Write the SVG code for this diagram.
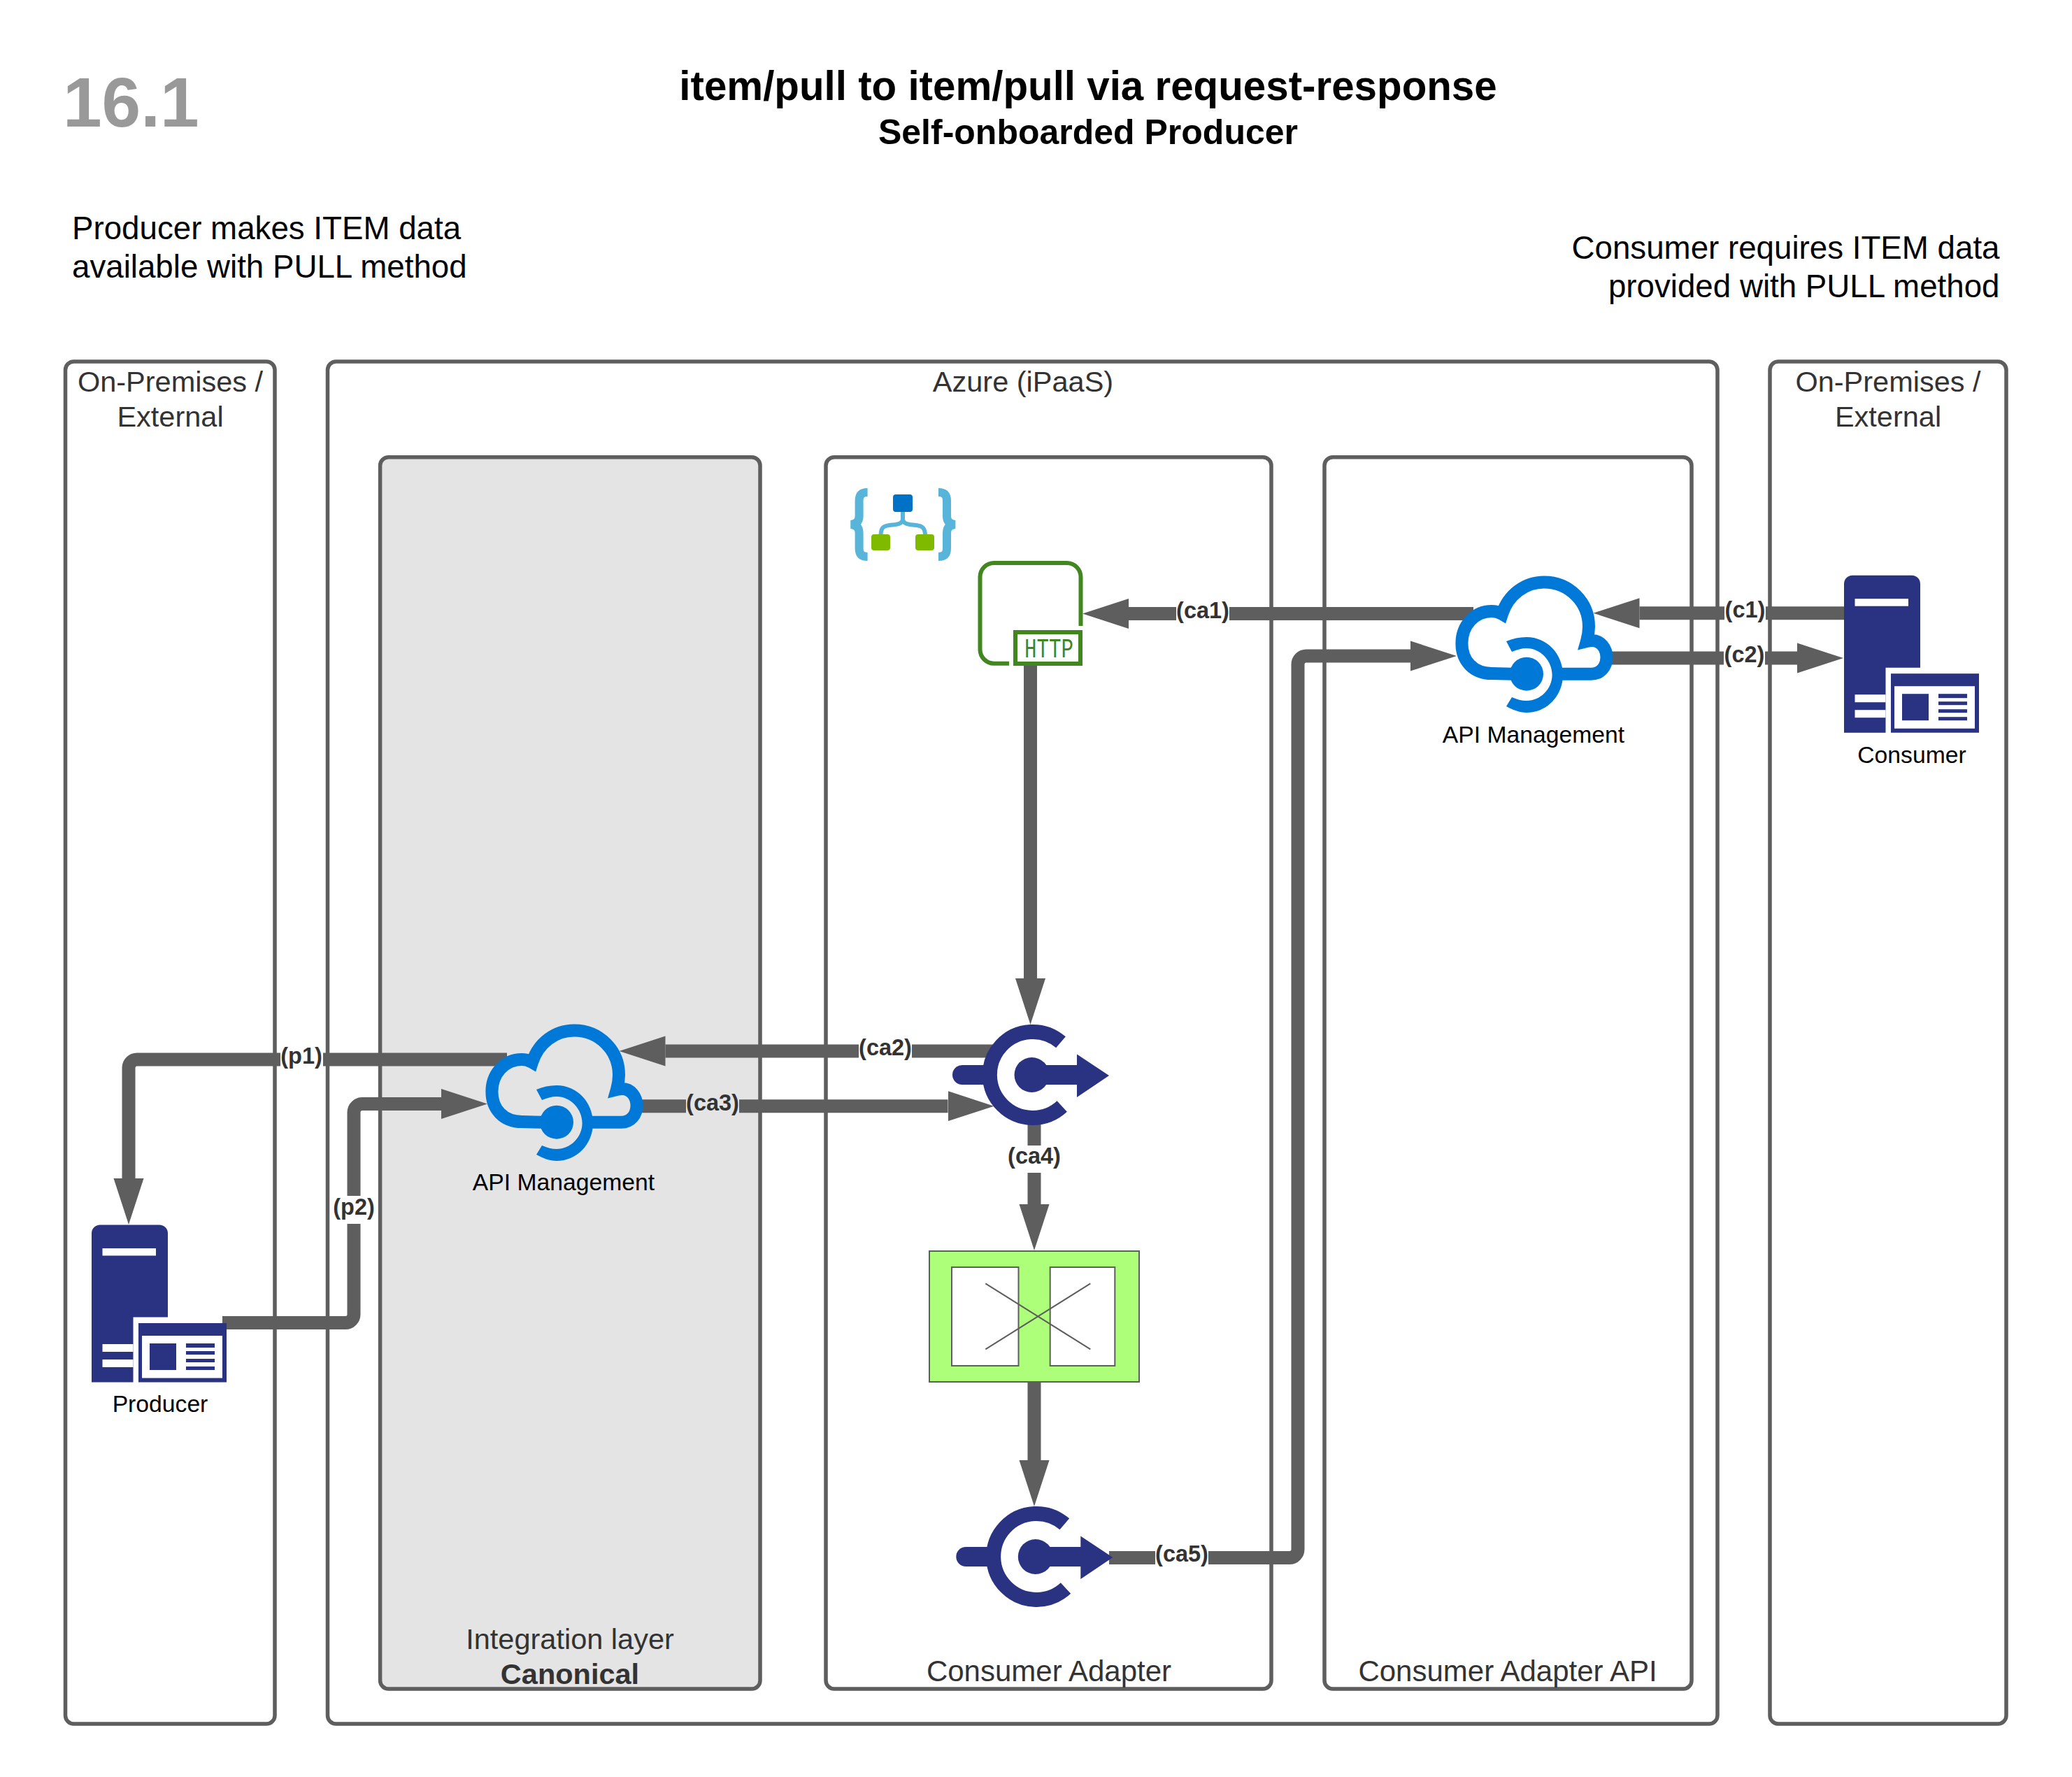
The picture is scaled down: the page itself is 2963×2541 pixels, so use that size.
<svg xmlns="http://www.w3.org/2000/svg" width="2963" height="2541" viewBox="0 0 2963 2541">
<style>
text{font-family:"Liberation Sans",Arial,sans-serif}
.box{fill:#fff;stroke:#5e5e5e;stroke-width:5.500}
.bl{font-size:41.5px;fill:#333;text-anchor:middle}
.ic{font-size:33.700px;fill:#000;text-anchor:middle}
.cn{fill:none;stroke:#5e5e5e;stroke-width:19}
.lb{font-size:32.500px;font-weight:700;fill:#333;text-anchor:middle}
.nv{fill:#293381}
.wh{fill:#fff}
.cl{fill:none;stroke:#0078d7;stroke-width:18}
.cf{fill:#0078d7}
.h{font-size:45.700px;fill:#000}
</style>
<defs>
<marker id="ah" markerUnits="userSpaceOnUse" markerWidth="68" markerHeight="46" refX="0" refY="23" orient="auto"><path d="M0,1.500L66,23L0,44.500Z" fill="#5e5e5e"/></marker>
<symbol id="cloud" overflow="visible">
<path class="cl" d="M81,140.700L52,140C26,140 9.400,122 9.400,97C9.400,71 28,51 52,51C57,51 62,52 67,55C76,27 100,9.500 127,9.500C163,9.500 191,38 191,73C191,80 190,87 188,94C190,93.500 193,93 196,93C208,93 216.500,104 216.500,117C216.500,130 208,140.700 194.500,140.700L152.700,140.700"/>
<path class="cf" d="M73,94C82,90 92,88 102,88C131,88 154,112 154,142C154,172 131,196 102,196C92,196 82,192 73,187L81,174C88,177 95,179 102,179C122,179 138.600,162 138.600,142C138.600,122 122,104 102,104C95,104 88,106 81,109Z"/>
<circle class="cf" cx="102" cy="140.700" r="24"/>
</symbol>
<symbol id="server" overflow="visible">
<path class="nv" d="M0,12A12,12 0 0 1 12,0H97A12,12 0 0 1 109,12V132H59.500V225H0Z"/>
<rect class="wh" x="15.500" y="33.500" width="76.500" height="10.500"/>
<rect class="wh" x="15.500" y="170.500" width="44" height="11"/>
<rect class="wh" x="15.500" y="192.500" width="44" height="11"/>
<rect class="nv" x="67" y="140.500" width="126" height="84.500"/>
<rect class="wh" x="72" y="158.500" width="115" height="60.500"/>
<rect class="nv" x="83" y="169.500" width="38" height="38"/>
<rect class="nv" x="135" y="169.500" width="41" height="6"/>
<rect class="nv" x="135" y="180.500" width="41" height="5"/>
<rect class="nv" x="135" y="191.500" width="41" height="5"/>
<rect class="nv" x="135" y="202.500" width="41" height="5"/>
</symbol>
<symbol id="trig" overflow="visible">
<path d="M40,-46.700A61.500,61.500 0 1 0 41.700,45" fill="none" stroke="#293381" stroke-width="21"/>
<circle class="nv" cx="-1.500" cy="0" r="25"/>
<path class="nv" d="M-1.500,-14H63V-29.500L109,1L63,32V14H-1.500Z"/>
<path class="nv" d="M-56,-14H-101A14,14 0 0 0 -101,14H-56Z"/>
</symbol>
</defs>
<rect width="2963" height="2541" fill="#fff"/>
<g id="titles">
<text x="90" y="181" font-size="100" font-weight="700" fill="#999">16.1</text>
<text x="1556" y="142.500" font-size="58.300" font-weight="700" text-anchor="middle" fill="#000">item/pull to item/pull via request-response</text>
<text x="1556" y="206" font-size="50" font-weight="700" text-anchor="middle" fill="#000">Self-onboarded Producer</text>
<text class="h" x="103" y="342">Producer makes ITEM data</text>
<text class="h" x="103" y="397">available with PULL method</text>
<text class="h" x="2859.500" y="370" text-anchor="end">Consumer requires ITEM data</text>
<text class="h" x="2859.500" y="425" text-anchor="end">provided with PULL method</text>
</g>
<g id="zone-onprem-left"><rect class="box" x="93.500" y="517" width="299.500" height="1948" rx="12"/><text class="bl" x="243.500" y="560">On-Premises /</text><text class="bl" x="243.500" y="610">External</text></g>
<g id="zone-azure"><rect class="box" x="468.500" y="517" width="1987.500" height="1948" rx="12"/><text class="bl" x="1463" y="560">Azure (iPaaS)</text></g>
<g id="zone-onprem-right"><rect class="box" x="2531" y="517" width="338" height="1948" rx="12"/><text class="bl" x="2700" y="560">On-Premises /</text><text class="bl" x="2700" y="610">External</text></g>
<g id="zone-integration"><rect class="box" x="543.600" y="653.700" width="543.400" height="1761.300" rx="12" style="fill:#e4e4e4"/><text class="bl" x="815" y="2358">Integration layer</text><text class="bl" x="815" y="2408" font-weight="700">Canonical</text></g>
<g id="zone-adapter"><rect class="box" x="1181" y="653.700" width="637" height="1761.300" rx="12"/><text class="bl" x="1500" y="2404" style="font-size:42px">Consumer Adapter</text></g>
<g id="zone-adapter-api"><rect class="box" x="1894" y="653.700" width="525" height="1761.300" rx="12"/><text class="bl" x="2156" y="2404" style="font-size:42px">Consumer Adapter API</text></g>
<g id="connectors">
<path class="cn" marker-end="url(#ah)" d="M2107,877.500H1614"/>
<path class="cn" marker-end="url(#ah)" d="M2637,876.700H2344.500"/>
<path class="cn" marker-end="url(#ah)" d="M2305,941H2570"/>
<path class="cn" marker-end="url(#ah)" d="M1473.500,952V1399"/>
<path class="cn" marker-end="url(#ah)" d="M1425,1503H951.500"/>
<path class="cn" marker-end="url(#ah)" d="M918,1581.700H1355.500"/>
<path class="cn" marker-end="url(#ah)" d="M1479,1600V1722"/>
<path class="cn" marker-end="url(#ah)" d="M1479,1976V2088"/>
<path class="cn" marker-end="url(#ah)" d="M1586,2227.500H1844A12,12 0 0 0 1856,2215.500V950A12,12 0 0 1 1868,938H2017"/>
<path class="cn" marker-end="url(#ah)" d="M725,1515H196A12,12 0 0 0 184,1527V1685"/>
<path class="cn" marker-end="url(#ah)" d="M318,1891.600H494A12,12 0 0 0 506,1879.600V1590.600A12,12 0 0 1 518,1578.600H631"/>
<g id="labels">
<rect class="wh" x="1682" y="858" width="76" height="38"/><text class="lb" x="1720" y="884">(ca1)</text>
<rect class="wh" x="2466" y="858" width="59" height="38"/><text class="lb" x="2495.500" y="883">(c1)</text>
<rect class="wh" x="2465" y="920" width="59" height="38"/><text class="lb" x="2494.500" y="947">(c2)</text>
<rect class="wh" x="1228" y="1482" width="76" height="38"/><text class="lb" x="1266" y="1509">(ca2)</text>
<rect x="981" y="1560" width="76" height="38" fill="#e4e4e4"/><text class="lb" x="1019" y="1588">(ca3)</text>
<rect class="wh" x="1441" y="1638" width="76" height="39"/><text class="lb" x="1479" y="1664">(ca4)</text>
<rect class="wh" x="1652" y="2206" width="76" height="38"/><text class="lb" x="1690" y="2233">(ca5)</text>
<rect class="wh" x="401" y="1495" width="61" height="38"/><text class="lb" x="431" y="1521">(p1)</text>
<rect class="wh" x="476" y="1710" width="60" height="40"/><text class="lb" x="506" y="1737">(p2)</text>
</g>
</g>
<g id="logic-app">
<g fill="none" stroke="#59b4d9" stroke-width="12"><path d="M1240.600,704C1232,704 1228.600,708 1228.600,716V738C1228.600,745 1225,749 1217,750C1225,751 1228.600,755 1228.600,762V784C1228.600,792 1232,796 1240.600,796"/><path d="M1342,704C1350.600,704 1354,708 1354,716V738C1354,745 1357.600,749 1365.600,750C1357.600,751 1354,755 1354,762V784C1354,792 1350.600,796 1342,796"/></g>
<path d="M1291,732V742C1291,749 1284,750 1272,751C1263,752 1259.500,755 1259.500,766M1291,742C1291,749 1298,750 1310,751C1319,752 1323,755 1323,766" fill="none" stroke="#59b4d9" stroke-width="6"/>
<rect x="1277" y="707" width="28" height="25" rx="4" fill="#0072c6"/>
<rect x="1246" y="764" width="27" height="23" rx="4" fill="#7fba00"/>
<rect x="1309" y="764" width="27" height="23" rx="4" fill="#7fba00"/>
</g>
<g id="http-trigger">
<path d="M1443,948.700H1422A20,20 0 0 1 1401.500,928.700V825A20,20 0 0 1 1421.500,805H1525.500A20,20 0 0 1 1545.500,825V895" fill="none" stroke="#41861f" stroke-width="6"/>
<rect x="1452" y="904" width="93" height="45" fill="#fff" stroke="#41861f" stroke-width="6"/>
<text x="1465" y="940" font-size="38" style="font-family:'Liberation Mono',monospace" fill="#41861f" textLength="70" lengthAdjust="spacingAndGlyphs">HTTP</text>
</g>
<g id="apim-consumer"><use href="#cloud" x="2081" y="823"/><text class="ic" x="2193" y="1062">API Management</text></g>
<g id="apim-canonical"><use href="#cloud" x="694" y="1464"/><text class="ic" x="806" y="1702">API Management</text></g>
<g id="consumer"><use href="#server" x="2637" y="822.700"/><text class="ic" x="2734" y="1091">Consumer</text></g>
<g id="producer"><use href="#server" x="131" y="1751.500"/><text class="ic" x="229" y="2019">Producer</text></g>
<g id="response-1"><use href="#trig" x="1477" y="1537"/></g>
<g id="response-2"><use href="#trig" x="1482.300" y="2226"/></g>
<g id="transform">
<rect x="1329" y="1789" width="300" height="187" fill="#adff7a" stroke="#5e5e5e" stroke-width="2"/>
<rect x="1361" y="1812" width="95.500" height="141" fill="#fff" stroke="#5e5e5e" stroke-width="2"/>
<rect x="1501.700" y="1812" width="92.600" height="141" fill="#fff" stroke="#5e5e5e" stroke-width="2"/>
<path d="M1409.300,1835.400L1559.300,1929.300M1559.300,1835.400L1409.300,1929.300" fill="none" stroke="#5e5e5e" stroke-width="2"/>
</g>
</svg>
